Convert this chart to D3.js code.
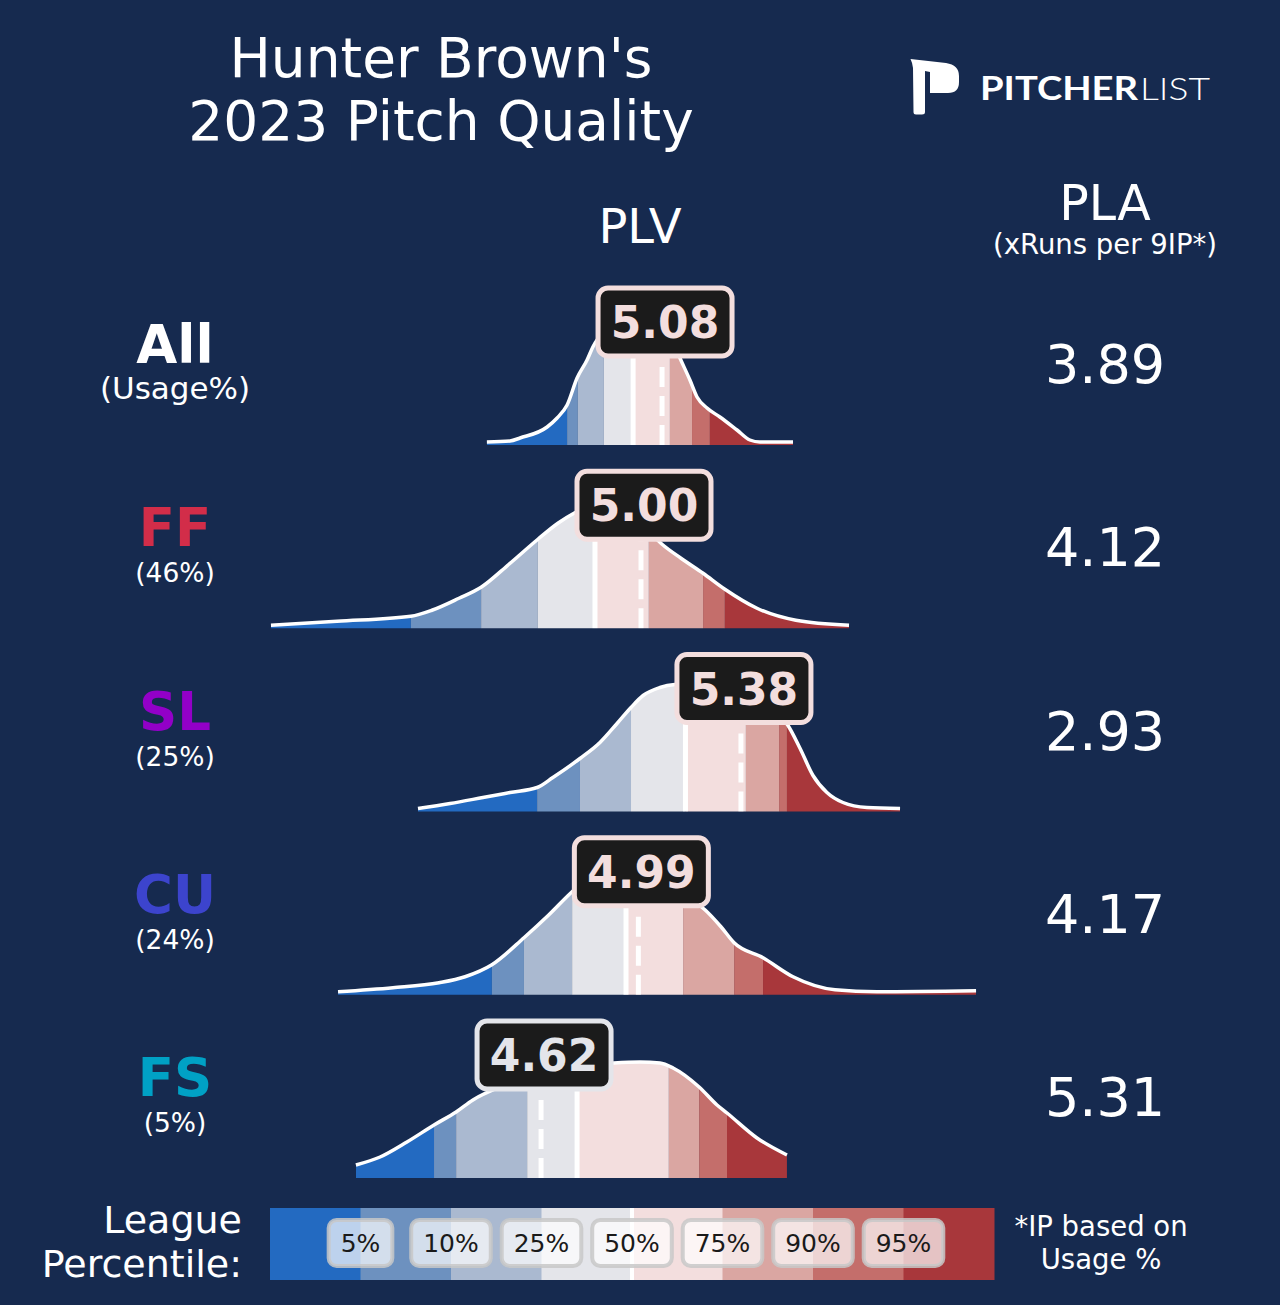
<!DOCTYPE html>
<html>
<head>
<meta charset="utf-8">
<script src="https://cdnjs.cloudflare.com/ajax/libs/d3/7.8.5/d3.min.js"></script>
<style>
  body { margin: 0; background: #162a4f; }
  svg { display: block; }
</style>
</head>
<body>
<div id="chart"></div>
<script>
// Hunter Brown 2023 pitch quality (PLV distributions vs league percentiles)
const pitchTypes = ["All", "FF", "SL", "CU", "FS"];
const usageLabels = ["(Usage%)", "(46%)", "(25%)", "(24%)", "(5%)"];
const pitchColors = ["#ffffff", "#d22d49", "#9300c8", "#3c44cd", "#00a1c5"];
const plvValues = [5.08, 5.00, 5.38, 4.99, 4.62];
const plaValues = [3.89, 4.12, 2.93, 4.17, 5.31];
const percentileLabels = ["5%", "10%", "25%", "50%", "75%", "90%", "95%"];
const bandColors = ["#236ac1", "#6d91bf", "#aab9d0", "#e4e5ea", "#f3dede", "#daa6a2", "#c46e6b", "#a8373b"];

// league PLV at the 5/10/25/50/75/90/95th percentile, per pitch type
const pctAll = [4.719, 4.760, 4.859, 4.970, 5.110, 5.194, 5.262];
const pctFF = [4.125, 4.392, 4.608, 4.825, 5.030, 5.236, 5.319];
const pctSL = [4.605, 4.768, 4.962, 5.169, 5.399, 5.525, 5.555];
const pctCU = [4.433, 4.555, 4.738, 4.943, 5.160, 5.354, 5.464];
const pctFS = [4.213, 4.297, 4.567, 4.757, 5.106, 5.221, 5.327];

// pitcher's PLV density [plv, relative density]
const densAll = [[4.414,0],[4.502,0.01],[4.540,0.04],[4.643,0.15],[4.681,0.24],[4.719,0.37],[4.757,0.64],[4.795,0.82],[4.817,0.95],[4.863,1.12],[4.920,1.24],[4.996,1.28],[5.072,1.18],[5.118,1.02],[5.148,0.84],[5.186,0.62],[5.213,0.45],[5.251,0.34],[5.300,0.25],[5.365,0.12],[5.414,0.02],[5.452,0],[5.578,0]];
const densFF = [[3.593,0],[3.844,0.04],[4.125,0.09],[4.205,0.15],[4.308,0.27],[4.392,0.38],[4.498,0.61],[4.608,0.86],[4.684,1.02],[4.745,1.12],[4.844,1.22],[4.920,1.18],[4.996,1.03],[5.080,0.81],[5.152,0.67],[5.236,0.52],[5.319,0.36],[5.441,0.17],[5.589,0.05],[5.791,0]];
const densSL = [[4.152,0],[4.274,0.05],[4.399,0.11],[4.502,0.16],[4.605,0.21],[4.665,0.31],[4.768,0.50],[4.844,0.66],[4.909,0.85],[4.962,1.01],[5.008,1.13],[5.072,1.21],[5.129,1.24],[5.224,1.25],[5.338,1.20],[5.452,1.08],[5.510,0.98],[5.559,0.83],[5.605,0.60],[5.654,0.33],[5.707,0.16],[5.768,0.06],[5.859,0.01],[5.985,0]];
const densCU = [[3.848,0],[4.057,0.04],[4.232,0.09],[4.331,0.15],[4.433,0.27],[4.555,0.54],[4.650,0.77],[4.738,1.00],[4.806,1.15],[4.882,1.24],[4.958,1.26],[5.034,1.20],[5.110,1.08],[5.186,0.93],[5.243,0.82],[5.304,0.65],[5.354,0.49],[5.464,0.34],[5.578,0.15],[5.738,0.02],[5.897,0],[6.274,0.01]];
const densFS = [[3.916,0.10],[4.008,0.18],[4.110,0.33],[4.213,0.50],[4.297,0.63],[4.361,0.75],[4.464,0.88],[4.578,0.98],[4.692,1.05],[4.806,1.10],[4.897,1.12],[4.996,1.13],[5.072,1.12],[5.122,1.07],[5.221,0.88],[5.289,0.70],[5.327,0.62],[5.441,0.37],[5.555,0.20]];

const leaguePct = [pctAll, pctFF, pctSL, pctCU, pctFS];
const densities = [densAll, densFF, densSL, densCU, densFS];

const width = 1280, height = 1305;
const font = "DejaVu Sans, Verdana, sans-serif";

const svg = d3.select("#chart")
    .append("svg")
    .attr("width", width)
    .attr("height", height);

svg.append("rect").attr("width", width).attr("height", height).attr("fill", "#162a4f");

const x = d3.scaleLinear().domain([3.5, 6.5]).range([246.5, 1035.5]);
const row = d3.scalePoint().domain(pitchTypes).range([442, 1175]);
const h = d3.scaleLinear().domain([0, 1]).range([0, 100]);

// Title
svg.append("text")
    .attr("x", 441).attr("text-anchor", "middle")
    .attr("font-family", font).attr("font-size", 55).attr("fill", "#fff")
    .selectAll("tspan")
    .data(["Hunter Brown's", "2023 Pitch Quality"])
    .join("tspan")
    .attr("x", 441)
    .attr("y", (d, i) => 77 + i * 63)
    .text(d => d);

// Logo
const logo = svg.append("g");
logo.append("path")
    .attr("d", "M910.5,59 L946,63 Q959,65 959,76 L959,82 Q959,93 948,93 L930,93 L930,72 L925,71 L925,112 Q925,114.5 922,114.5 L916,114.5 Q913.5,114.5 913.5,112 L913,68 Q912.5,63 910.5,59 Z")
    .attr("fill", "#fff");
logo.append("text")
    .attr("x", 980).attr("y", 100)
    .attr("font-family", "Lato, Open Sans, sans-serif").attr("font-weight", 700)
    .attr("font-size", 32).attr("fill", "#fff")
    .attr("textLength", 158).attr("lengthAdjust", "spacingAndGlyphs")
    .text("PITCHER");
logo.append("text")
    .attr("x", 1140).attr("y", 100)
    .attr("font-family", "Lato, Open Sans, sans-serif").attr("font-weight", 300)
    .attr("font-size", 32).attr("fill", "#fff")
    .attr("textLength", 70).attr("lengthAdjust", "spacingAndGlyphs")
    .text("LIST");

// Column headers
svg.append("text")
    .attr("x", 640).attr("y", 243).attr("text-anchor", "middle")
    .attr("font-family", font).attr("font-size", 48).attr("fill", "#fff")
    .text("PLV");
svg.append("text")
    .attr("x", 1105).attr("y", 220).attr("text-anchor", "middle")
    .attr("font-family", font).attr("font-size", 49).attr("fill", "#fff")
    .text("PLA");
svg.append("text")
    .attr("x", 1105).attr("y", 254).attr("text-anchor", "middle")
    .attr("font-family", font).attr("font-size", 27.5).attr("fill", "#fff")
    .text("(xRuns per 9IP*)");

const area = d3.area()
    .x(d => x(d[0]))
    .curve(d3.curveMonotoneX);
const line = d3.line()
    .x(d => x(d[0]))
    .curve(d3.curveMonotoneX);

pitchTypes.forEach((pt, i) => {
    const base = row(pt);
    const dens = densities[i];
    const pct = leaguePct[i];
    const g = svg.append("g").attr("class", "ridge");

    // left labels
    g.append("text")
        .attr("x", 175).attr("y", base - 79).attr("text-anchor", "middle")
        .attr("font-family", font).attr("font-weight", "bold")
        .attr("font-size", 53).attr("fill", pitchColors[i])
        .text(pt);
    g.append("text")
        .attr("x", 175).attr("y", base - 43).attr("text-anchor", "middle")
        .attr("font-family", font)
        .attr("font-size", i === 0 ? 31 : 26.5).attr("fill", "#fff")
        .text(usageLabels[i]);

    // PLA value
    g.append("text")
        .attr("x", 1105).attr("y", base - 59).attr("text-anchor", "middle")
        .attr("font-family", font).attr("font-size", 54).attr("fill", "#fff")
        .text(plaValues[i].toFixed(2));

    // clip to density shape
    const clipId = "clip-" + pt;
    area.y0(base + 3).y1(d => base - h(d[1]));
    g.append("clipPath").attr("id", clipId)
        .append("path").attr("d", area(dens));

    const inner = g.append("g").attr("clip-path", `url(#${clipId})`);
    const bounds = [dens[0][0], ...pct, dens[dens.length - 1][0]];
    inner.selectAll("rect")
        .data(d3.pairs(bounds))
        .join("rect")
        .attr("x", d => x(d[0]))
        .attr("width", d => Math.max(0, x(d[1]) - x(d[0])))
        .attr("y", base - 150)
        .attr("height", 155)
        .attr("fill", (d, k) => bandColors[k]);

    // league median (solid) and pitcher PLV (dashed)
    inner.append("line")
        .attr("x1", x(pct[3])).attr("x2", x(pct[3]))
        .attr("y1", base + 3).attr("y2", base - 150)
        .attr("stroke", "#fff").attr("stroke-width", 5);
    inner.append("line")
        .attr("x1", x(plvValues[i])).attr("x2", x(plvValues[i]))
        .attr("y1", base + 3).attr("y2", base - 150)
        .attr("stroke", "#fff").attr("stroke-width", 5)
        .attr("stroke-dasharray", "20 9");

    // outline
    line.y(d => base - h(d[1]));
    g.append("path")
        .attr("d", line(dens))
        .attr("fill", "none")
        .attr("stroke", "#fff")
        .attr("stroke-width", 3.5);

    // value box
    const boxColor = bandColors[d3.bisect(pct, plvValues[i])];
    const box = g.append("g")
        .attr("transform", `translate(${x(plvValues[i]) + 3},${base - 120})`);
    box.append("rect")
        .attr("x", -67).attr("y", -34)
        .attr("width", 134).attr("height", 68)
        .attr("rx", 10)
        .attr("fill", "#1b1b1b")
        .attr("stroke", boxColor)
        .attr("stroke-width", 5);
    box.append("text")
        .attr("y", 16).attr("text-anchor", "middle")
        .attr("font-family", font).attr("font-weight", "bold")
        .attr("font-size", 44).attr("fill", boxColor)
        .text(plvValues[i].toFixed(2));
});

// Legend
const lx = d3.scaleLinear().domain([0, bandColors.length]).range([270, 994]);
const legend = svg.append("g").attr("class", "legend");
legend.selectAll("rect.band")
    .data(bandColors)
    .join("rect")
    .attr("class", "band")
    .attr("x", (d, k) => lx(k))
    .attr("width", lx(1) - lx(0) + 0.5)
    .attr("y", 1208).attr("height", 72)
    .attr("fill", d => d);
legend.append("line")
    .attr("x1", lx(4)).attr("x2", lx(4))
    .attr("y1", 1208).attr("y2", 1280)
    .attr("stroke", "#fff").attr("stroke-width", 4);

const tags = legend.selectAll("g.tag")
    .data(percentileLabels)
    .join("g")
    .attr("class", "tag")
    .attr("transform", (d, k) => `translate(${lx(k + 1)},1243)`);
tags.append("rect").attr("class", "tagbox");
tags.append("text")
    .attr("y", 9).attr("text-anchor", "middle")
    .attr("font-family", font).attr("font-size", 25).attr("fill", "#1a1a1a")
    .text(d => d);
tags.each(function () {
    const t = d3.select(this);
    const w = t.select("text").node().getComputedTextLength() + 24;
    t.select("rect")
        .attr("x", -w / 2).attr("y", -23)
        .attr("width", w).attr("height", 46)
        .attr("rx", 8)
        .attr("fill", "#ffffff").attr("fill-opacity", 0.7)
        .attr("stroke", "#c8c8c8").attr("stroke-opacity", 0.85)
        .attr("stroke-width", 4);
});

svg.append("text")
    .attr("text-anchor", "end")
    .attr("font-family", font).attr("font-size", 38).attr("fill", "#fff")
    .selectAll("tspan")
    .data(["League", "Percentile:"])
    .join("tspan")
    .attr("x", 242)
    .attr("y", (d, i) => 1233 + i * 44)
    .text(d => d);

svg.append("text")
    .attr("text-anchor", "middle")
    .attr("font-family", font).attr("font-size", 27.5).attr("fill", "#fff")
    .selectAll("tspan")
    .data(["*IP based on", "Usage %"])
    .join("tspan")
    .attr("x", 1101)
    .attr("y", (d, i) => 1236 + i * 33)
    .text(d => d);
</script>
</body>
</html>
